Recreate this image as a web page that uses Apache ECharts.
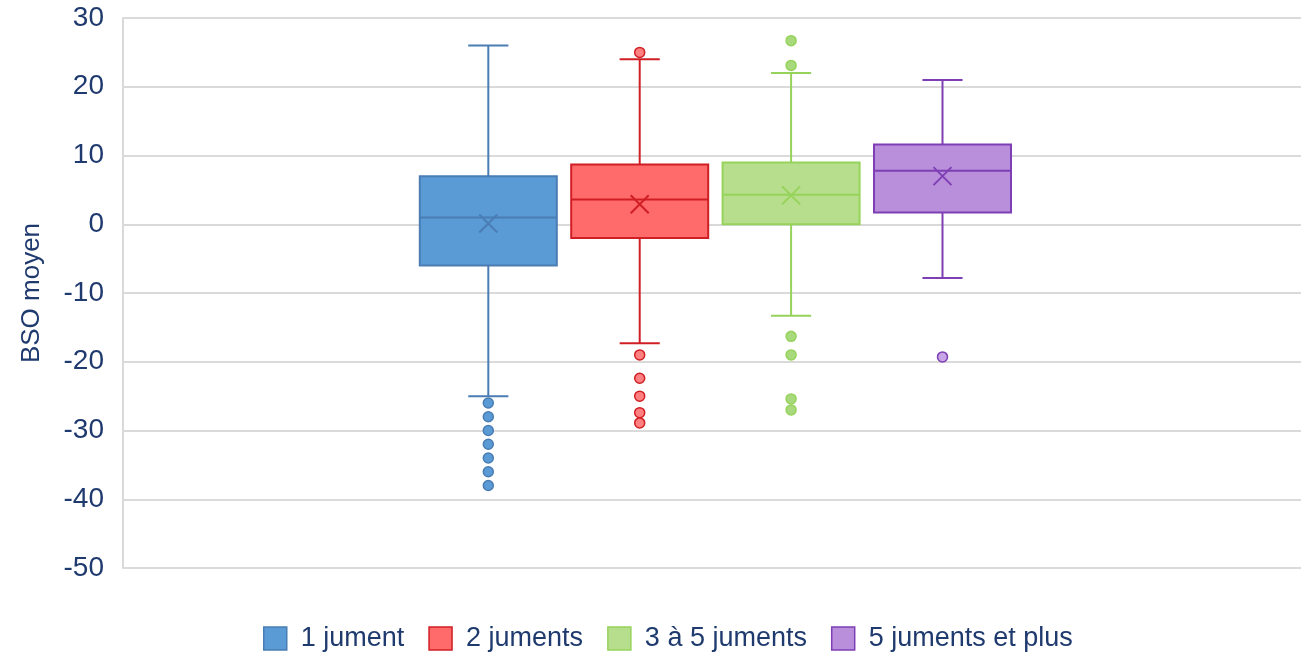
<!DOCTYPE html>
<html>
<head>
<meta charset="utf-8">
<script src="https://cdn.jsdelivr.net/npm/echarts@6/dist/echarts.min.js"></script>
<style>
html,body{margin:0;padding:0;background:#fff;}
#chart{width:1301px;height:654px;}
</style>
</head>
<body>
<div id="chart"></div>
<script>
// ---- data ----
const categories = ['1 jument', '2 juments', '3 à 5 juments', '5 juments et plus'];
const whiskerLow  = [-25, -17.3, -13.3, -7.8];
const quartile1   = [-6, -2, 0, 1.7];
const medians     = [1, 3.6, 4.3, 7.8];
const quartile3   = [7, 8.7, 9, 11.6];
const whiskerHigh = [26, 24, 22, 21];
const means       = [0.1, 2.9, 4.2, 7];
const outliers1 = [-26, -28, -30, -32, -34, -36, -38];
const outliers2 = [25, -19, -22.4, -25, -27.4, -28.9];
const outliers3 = [26.7, 23.1, -16.3, -19, -25.4, -27];
const outliers4 = [-19.3];
const yMin = -50, yMax = 30, yStep = 10;

// ---- styles ----
const fills   = ['#5B9BD5', '#FF6B6B', '#B7DE8D', '#B98FDC'];
const borders = ['#4A7DB3', '#D01F24', '#96D35A', '#7E3FB4'];
const outlierFill = ['#5B9BD5', '#FF8080', '#A8D97C', '#C8A5E6'];
const outlierLists = [outliers1, outliers2, outliers3, outliers4];
const textColor = '#1F3A6E';

const chart = echarts.init(document.getElementById('chart'), null, {renderer: 'canvas'});

function renderBox(idx) {
  return function (params, api) {
    const c = api.value(0);
    const x = api.coord([c, 0])[0];
    const band = api.size([1, 0])[0];
    const bw = band * 0.905;
    const cw = band * 0.265;
    const yLow = api.coord([c, api.value(1)])[1];
    const yQ1 = api.coord([c, api.value(2)])[1];
    const yMed = api.coord([c, api.value(3)])[1];
    const yQ3 = api.coord([c, api.value(4)])[1];
    const yHigh = api.coord([c, api.value(5)])[1];
    const yMean = api.coord([c, api.value(6)])[1];
    const lineStyle = {stroke: borders[idx], lineWidth: 2, fill: null};
    const m = 9;
    return {
      type: 'group',
      children: [
        {type: 'line', shape: {x1: x, y1: yHigh, x2: x, y2: yQ3}, style: lineStyle},
        {type: 'line', shape: {x1: x, y1: yQ1, x2: x, y2: yLow}, style: lineStyle},
        {type: 'line', shape: {x1: x - cw / 2, y1: yHigh, x2: x + cw / 2, y2: yHigh}, style: lineStyle},
        {type: 'line', shape: {x1: x - cw / 2, y1: yLow, x2: x + cw / 2, y2: yLow}, style: lineStyle},
        {type: 'rect', shape: {x: x - bw / 2, y: yQ3, width: bw, height: yQ1 - yQ3},
          style: {fill: fills[idx], stroke: borders[idx], lineWidth: 2}},
        {type: 'line', shape: {x1: x - bw / 2, y1: yMed, x2: x + bw / 2, y2: yMed}, style: lineStyle},
        {type: 'line', shape: {x1: x - m, y1: yMean - m, x2: x + m, y2: yMean + m}, style: lineStyle},
        {type: 'line', shape: {x1: x - m, y1: yMean + m, x2: x + m, y2: yMean - m}, style: lineStyle}
      ]
    };
  };
}

const series = [];
categories.forEach(function (name, i) {
  series.push({
    name: name,
    type: 'custom',
    xAxisIndex: 1,
    yAxisIndex: 1,
    renderItem: renderBox(i),
    itemStyle: {color: fills[i], borderColor: borders[i]},
    encode: {x: 0, y: [1, 2, 3, 4, 5, 6]},
    data: [[i, whiskerLow[i], quartile1[i], medians[i], quartile3[i], whiskerHigh[i], means[i]]],
    z: 2
  });
  series.push({
    name: name,
    type: 'scatter',
    xAxisIndex: 1,
    yAxisIndex: 1,
    symbol: 'circle',
    symbolSize: 10,
    itemStyle: {color: outlierFill[i], borderColor: borders[i], borderWidth: 1.5, opacity: 1},
    data: outlierLists[i].map(function (v) { return [i, v]; }),
    z: 3
  });
});

const option = {
  animation: false,
  backgroundColor: '#ffffff',
  grid: [
    {left: 123, right: 0, top: 18, bottom: 86},
    {left: 412.6, width: 605.6, top: 18, bottom: 86}
  ],
  xAxis: [
    {type: 'category', gridIndex: 0, data: [''], axisLine: {show: true, lineStyle: {color: '#D9D9D9', width: 2}},
      axisTick: {show: false}, axisLabel: {show: false}},
    {type: 'category', gridIndex: 1, data: categories, show: false}
  ],
  yAxis: [
    {type: 'value', gridIndex: 0, min: yMin, max: yMax, interval: yStep,
      name: 'BSO moyen', nameLocation: 'middle', nameGap: 78, nameRotate: 90,
      nameTextStyle: {fontFamily: 'Liberation Sans', fontSize: 26, color: textColor},
      axisLine: {show: true, lineStyle: {color: '#D9D9D9', width: 2}},
      axisTick: {show: false},
      axisLabel: {fontFamily: 'Liberation Sans', fontSize: 28, color: textColor, margin: 19},
      splitLine: {show: true, lineStyle: {color: '#DADADA', width: 2}}},
    {type: 'value', gridIndex: 1, min: yMin, max: yMax, interval: yStep, show: false,
      splitLine: {show: false}}
  ],
  legend: {
    left: 258, top: 620,
    itemWidth: 23, itemHeight: 23, itemGap: 24,
    textStyle: {fontFamily: 'Liberation Sans', fontSize: 27, color: textColor, padding: [0, 0, 0, 9]},
    data: categories.map(function (name, i) {
      return {name: name, icon: 'rect', itemStyle: {color: fills[i], borderColor: borders[i], borderWidth: 1.5}};
    })
  },
  series: series
};
chart.setOption(option);
</script>
</body>
</html>
